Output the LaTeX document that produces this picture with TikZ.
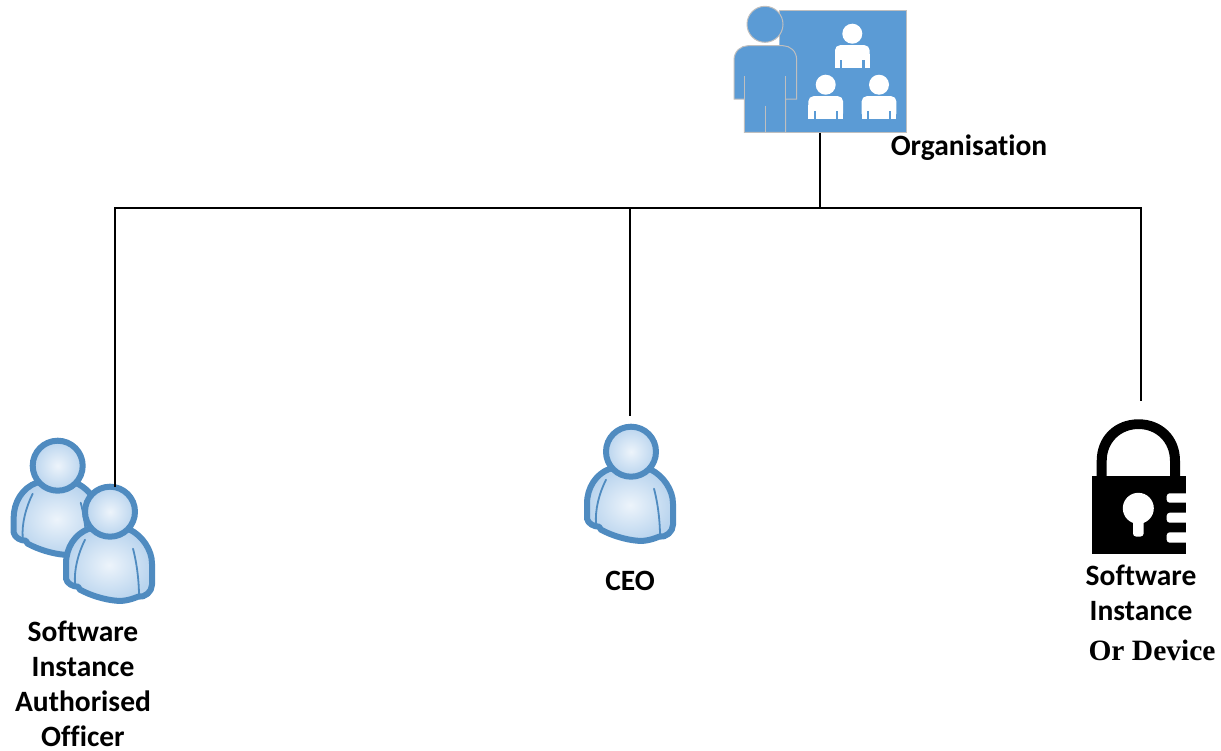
\documentclass[tikz,border=0pt]{standalone}
\usepackage{fontspec}
\setmainfont[Ligatures=CommonOff]{Carlito}
\newfontfamily\serifbold{Liberation Serif}
\definecolor{iconblue}{HTML}{5B9BD5}
\definecolor{icongray}{HTML}{BFBFBF}
\definecolor{rim}{HTML}{4F8BC0}
\definecolor{glowin}{HTML}{EDF4FB}
\definecolor{glowout}{HTML}{B9D4EE}
\tikzset{
  label text/.style={font=\fontsize{29.5}{35}\selectfont\bfseries, align=center, inner sep=0pt, text=black},
  wire/.style={draw=black, line width=2.8pt},
  rimline/.style={draw=rim, line width=6pt, line join=round},
  iconline/.style={draw=icongray, line width=1pt},
  anchorpt/.style={inner sep=0pt, minimum size=0pt}
}
\newcommand{\buddy}[2]{%
  \begin{scope}[shift={(#1,#2)}]
    \path[rimline, inner color=glowin, outer color=glowout]
      (-21,17) .. controls (-35,22) and (-44,36) .. (-44,52)
      -- (-44,67) .. controls (-43,72) and (-37,75) .. (-32,75)
      -- (-30,78) .. controls (-19,84) and (-5,88) .. (6,89)
      .. controls (15,90) and (23,87) .. (28,85)
      .. controls (35,86) and (42,80) .. (42,73)
      -- (42,52) .. controls (42,38) and (32,24) .. (20,18) -- cycle;
    \draw[rim, line width=1.8pt, line cap=round] (-25,28) .. controls (-32,42) and (-36,58) .. (-35,72);
    \draw[rim, line width=1.8pt, line cap=round] (23,37) .. controls (27,52) and (29,70) .. (29,84);
    \path[rimline, inner color=glowin, outer color=glowout] (0,0) circle (25);
  \end{scope}}
\newcommand{\minifigure}[2]{%
  \begin{scope}[shift={(#1,#2)}]
    \fill[white] (0,0) circle (10);
    \fill[white, rounded corners=5pt] (-17.3,34) -- (-17.3,11.5) -- (17.3,11.5) -- (17.3,34) -- cycle;
    \fill[white] (-17.3,20) rectangle (17.3,34);
    \fill[iconblue] (-12.2,26) rectangle (-10,34.2);
    \fill[iconblue] (10,26) rectangle (12.2,34.2);
  \end{scope}}
\begin{document}
\begin{tikzpicture}[x=1pt,y=-1pt]
\useasboundingbox (0,0) rectangle (1221,750);

% organisation icon
\fill[iconblue] (779.3,10.7) -- (906.7,10.7) -- (906.7,132.3) -- (744.3,132.3) -- (744.3,60) -- (779.3,60) -- cycle;
\draw[iconline] (779.3,40) -- (779.3,10.7) -- (906.7,10.7) -- (906.7,132.3) -- (744.3,132.3);
\path[fill=iconblue, draw=icongray, line width=1pt] (744.3,132.3) -- (744.3,99) -- (734,99) -- (734,60)
  .. controls (734,51) and (741,45.7) .. (748,45.7) -- (783,45.7)
  .. controls (790,45.7) and (796.7,51) .. (796.7,60) -- (796.7,99) -- (785.7,99) -- (785.7,132.3) -- cycle;
\draw[iconblue, line width=1.2pt] (744.3,99) -- (744.3,132);
\draw[iconline] (744.3,76) -- (744.3,132.3);
\draw[iconline] (785.7,76) -- (785.7,132.3);
\draw[iconline] (765,105.7) -- (765,132.3);
\path[fill=iconblue, draw=icongray, line width=1pt] (765,24.3) circle (18);
\minifigure{852.3}{33.7}
\minifigure{825.7}{84.7}
\minifigure{879}{84.7}
\node[anchorpt] (org) at (820,132.3) {};

% people icons
\buddy{57.7}{465.7}
\buddy{110}{511.7}
\buddy{631}{451.7}
\node[anchorpt] (officer) at (115,487) {};
\node[anchorpt] (ceo) at (630,416) {};
\node[anchorpt] (device) at (1141,401) {};

% padlock
\fill[black]
  (1096.7,480) -- (1096.7,461) .. controls (1096.7,436) and (1115,419.3) .. (1138.5,419.3)
  .. controls (1162,419.3) and (1180,436) .. (1180,461) -- (1180,480) -- (1170,480) -- (1170,461)
  .. controls (1170,442) and (1156,429) .. (1138.5,429)
  .. controls (1121,429) and (1106.7,442) .. (1106.7,461) -- (1106.7,480) -- cycle;
\fill[black] (1091.7,476) rectangle (1185.7,554);
\fill[white] (1138.3,508.3) circle (15.5);
\fill[white, rounded corners=3pt] (1133,515) rectangle (1143.6,536.5);
\foreach \ya/\yb in {493.3/502.7, 512.7/522.7, 532.3/542.7}
  \fill[white, rounded corners=3pt] (1166.7,\ya) rectangle (1192,\yb);
\fill[white] (1186,485) rectangle (1192,550);

% connectors
\node[anchorpt] (hub) at (820,208) {};
\node[anchorpt] (left) at (115,208) {};
\node[anchorpt] (mid) at (630,208.5) {};
\node[anchorpt] (right) at (1141,208) {};
\draw[wire] (org) -- (hub);
\draw[wire, line cap=rect] (left) -- (right);
\draw[wire] (left) -- (officer);
\draw[wire] (mid) -- (ceo);
\draw[wire] (right) -- (device);

% labels
\node[label text] (orgl) at (969,148) {Organisation};
\node[label text] (ceol) at (630,581) {CEO};
\node[label text] (officerl) at (83,683.5) {Software\\Instance\\Authorised\\Officer};
\node[label text] (devl) at (1141,592.5) {Software\\Instance};
\node[label text, font=\fontsize{29.5}{30}\selectfont\serifbold\bfseries] (orl) at (1152,650) {Or Device};
\end{tikzpicture}
\end{document}
